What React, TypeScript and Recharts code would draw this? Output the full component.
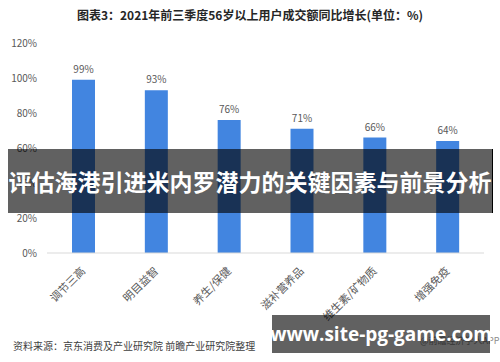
import { BarChart, Bar, XAxis, YAxis, LabelList } from "recharts";

const categories = ["调节三高", "明目益智", "养生/保健", "滋补营养品", "维生素/矿物质", "增强免疫"];
const growthValues = [99, 93, 76, 71, 66, 64];
const yTicks = [0, 20, 40, 60, 80, 100, 120];

const data = categories.map((name, i) => ({ name, value: growthValues[i] }));

const CJK = '"Noto Sans CJK SC", "Noto Sans", sans-serif';

const RotatedTick = (props: any) => {
  const { x, y, payload } = props;
  return (
    <g transform={`translate(${x},${y + 8})`}>
      <text
        transform="rotate(-45)"
        textAnchor="end"
        dy="0.35em"
        fontSize={11}
        fontFamily={CJK}
        fill="#595959"
      >
        {payload.value}
      </text>
    </g>
  );
};

const App = () => {
  return (
    <div style={{ position: "absolute", left: 0, top: 0, width: 500, height: 362, background: "#fff", overflow: "hidden" }}>
      <div
        style={{
          position: "absolute",
          top: 6,
          left: 0,
          width: 500,
          textAlign: "center",
          fontFamily: CJK,
          fontWeight: 700,
          fontSize: 12,
          color: "#262626",
        }}
      >
        图表3：2021年前三季度56岁以上用户成交额同比增长(单位：%)
      </div>
      <BarChart width={500} height={362} data={data} margin={{ top: 43, right: 16, bottom: 79, left: 0 }}>
        <YAxis
          domain={[0, 120]}
          ticks={yTicks}
          width={47}
          axisLine={false}
          tickLine={false}
          tickSize={0}
          tickMargin={10}
          tickFormatter={(v: number) => `${v}%`}
          tick={{ fontSize: 10, fill: "#595959", fontFamily: CJK }}
        />
        <XAxis
          dataKey="name"
          interval={0}
          height={30}
          axisLine={{ stroke: "#d9d9d9" }}
          tickLine={false}
          tick={<RotatedTick />}
        />
        <Bar dataKey="value" fill="#4285E0" barSize={23} isAnimationActive={false}>
          <LabelList
            dataKey="value"
            position="top"
            offset={7}
            formatter={(v: any) => `${v}%`}
            style={{ fontSize: 10, fill: "#595959", fontFamily: CJK }}
          />
        </Bar>
      </BarChart>
      <div
        style={{
          position: "absolute",
          left: 13,
          top: 338,
          fontFamily: CJK,
          fontSize: 10,
          color: "#404040",
          whiteSpace: "nowrap",
        }}
      >
        资料来源：京东消费及产业研究院 前瞻产业研究院整理
      </div>
      <div
        style={{
          position: "absolute",
          left: 420,
          top: 334,
          fontFamily: CJK,
          fontSize: 9,
          color: "#8c8c8c",
          whiteSpace: "nowrap",
        }}
      >
        @前瞻经济学人APP
      </div>
      <div
        style={{
          position: "absolute",
          left: 8,
          top: 149,
          width: 484,
          height: 64,
          background: "rgba(0,0,0,0.62)",
          borderRight: "1px solid #000",
          display: "flex",
          alignItems: "center",
          justifyContent: "center",
          color: "#fff",
          fontFamily: CJK,
          fontWeight: 700,
          fontSize: 23,
          whiteSpace: "nowrap",
        }}
      >
        评估海港引进米内罗潜力的关键因素与前景分析
      </div>
      <div
        style={{
          position: "absolute",
          left: 272,
          top: 315,
          width: 218,
          height: 38,
          background: "rgba(0,0,0,0.62)",
          display: "flex",
          alignItems: "center",
          justifyContent: "center",
          color: "#fff",
          fontFamily: '"Open Sans", sans-serif',
          fontWeight: 700,
          fontSize: 19,
          whiteSpace: "nowrap",
        }}
      >
        www.site-pg-game.com
      </div>
    </div>
  );
};

export default App;
